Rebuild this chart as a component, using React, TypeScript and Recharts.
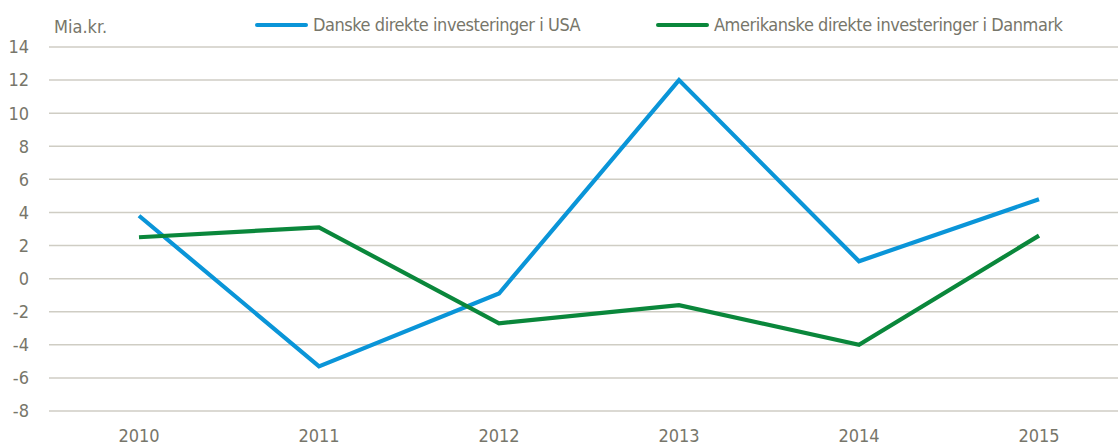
import React from 'react';
import { LineChart, Line, XAxis, YAxis, CartesianGrid, Legend } from 'recharts';

const years = ['2010', '2011', '2012', '2013', '2014', '2015'];
const danishInUsa = [3.8, -5.3, -0.9, 12.0, 1.05, 4.8];
const usInDenmark = [2.5, 3.1, -2.7, -1.6, -4.0, 2.6];
const yTicks = [-8, -6, -4, -2, 0, 2, 4, 6, 8, 10, 12, 14];

const SERIES = [
  { key: 'dk', name: 'Danske direkte investeringer i USA', color: '#0a95d8' },
  { key: 'us', name: 'Amerikanske direkte investeringer i Danmark', color: '#0a873b' },
];

const FONT = "'Liberation Sans Narrow', 'DejaVu Sans Condensed', 'Arial Narrow', sans-serif";
const TEXT = '#77766a';
const GRID = '#cfcdc4';
const LEGEND_X = [255, 656];

const data = years.map((year, i) => ({ year, dk: danishInUsa[i], us: usInDenmark[i] }));

// legend drawn in series order, line swatch + label
const ChartLegend = () => (
  <div style={{ position: 'relative', width: 1118, height: 40, fontFamily: FONT }}>
    {SERIES.map((s, i) => (
      <div
        key={s.key}
        style={{ position: 'absolute', left: LEGEND_X[i], top: 12, display: 'flex', alignItems: 'center' }}
      >
        <span style={{ display: 'inline-block', width: 53, height: 4, borderRadius: 2, background: s.color }} />
        <span style={{ marginLeft: 5, fontSize: 18, letterSpacing: -0.45, color: TEXT, lineHeight: '26px', whiteSpace: 'nowrap' }}>
          {s.name}
        </span>
      </div>
    ))}
  </div>
);

const UnitLabel = ({ viewBox }: any) => (
  <text x={viewBox.x + viewBox.width + 5} y={viewBox.y - 14} fill={TEXT} fontSize={18} fontFamily={FONT}>
    Mia.kr.
  </text>
);

const App: React.FC = () => {
  return (
    <div style={{ position: 'absolute', left: 0, top: 0, width: 1118, height: 446, overflow: 'hidden', background: '#fff' }}>
      <LineChart width={1129} height={446} data={data} margin={{ top: 47, right: 0, left: 0, bottom: 0 }}>
        <CartesianGrid horizontal vertical={false} stroke={GRID} strokeWidth={1.5} />
        <XAxis
          dataKey="year"
          axisLine={false}
          tickLine={false}
          tickSize={8}
          tickMargin={10}
          height={35}
          interval={0}
          padding={{ left: 90, right: 90 }}
          tick={{ fill: TEXT, fontSize: 18, fontFamily: FONT }}
        />
        <YAxis
          type="number"
          domain={[-8, 14]}
          ticks={yTicks}
          interval={0}
          width={49}
          axisLine={false}
          tickLine={false}
          tickSize={10}
          tickMargin={10}
          tick={{ fill: TEXT, fontSize: 18, fontFamily: FONT }}
          label={<UnitLabel />}
        />
        <Legend
          layout="horizontal"
          verticalAlign="middle"
          align="center"
          content={<ChartLegend />}
          wrapperStyle={{ position: 'absolute', top: 0, left: 0, width: 1118, height: 40 }}
        />
        {SERIES.map((s) => (
          <Line
            key={s.key}
            type="linear"
            dataKey={s.key}
            name={s.name}
            stroke={s.color}
            strokeWidth={4.2}
            dot={false}
            activeDot={false}
            isAnimationActive={false}
          />
        ))}
      </LineChart>
    </div>
  );
};

export default App;
